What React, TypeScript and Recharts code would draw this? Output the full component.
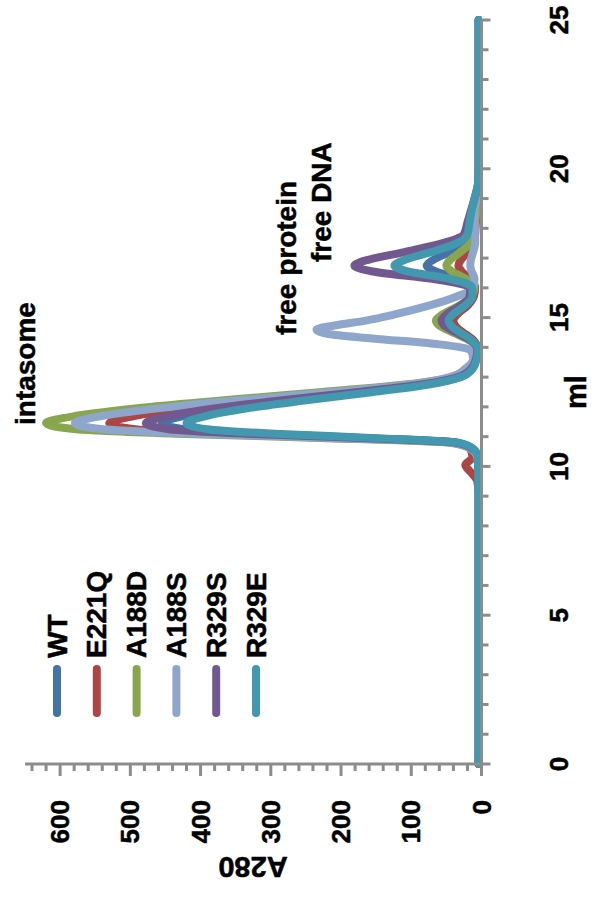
import React from 'react';
import { LineChart, Line, XAxis, YAxis, Legend, Customized } from 'recharts';

const ML = [0, 1, 2, 3, 4, 5, 6, 7, 8, 9, 9.5, 9.8, 10.05, 10.3, 10.6, 10.8, 10.95, 11.1, 11.25, 11.45, 11.7, 12.0, 12.25, 12.5, 12.75, 13.0, 13.3, 13.6, 13.9, 14.1, 14.3, 14.45, 14.6, 14.75, 14.9, 15.1, 15.4, 15.7, 16.0, 16.3, 16.55, 16.75, 16.95, 17.2, 17.5, 17.8, 18.2, 18.6, 19.0, 19.5, 20, 21, 22, 23, 24, 25];

const WT = [4, 4, 4, 4, 4, 4, 4, 4, 4, 4, 4, 4, 5, 5, 13, 36, 162, 320, 423, 455, 423, 347, 261, 166, 81, 31, 13, 8, 5, 8, 18, 28, 39, 47, 50, 44, 26, 13, 10, 30, 65, 78, 68, 45, 22, 13, 10, 7, 5, 4, 4, 4, 4, 4, 4, 4];
const E221Q = [4, 4, 4, 4, 4, 4, 4, 4, 4, 4, 6, 15, 23, 13, 16, 41, 188, 372, 493, 530, 493, 404, 304, 193, 93, 36, 15, 9, 5, 7, 14, 23, 32, 38, 40, 35, 20, 11, 9, 16, 28, 33, 29, 20, 12, 9, 8, 6, 5, 4, 4, 4, 4, 4, 4, 4];
const A188D = [4, 4, 4, 4, 4, 4, 4, 4, 4, 4, 4, 4, 5, 5, 16, 47, 220, 435, 577, 620, 577, 472, 355, 226, 109, 41, 16, 10, 6, 10, 22, 36, 50, 61, 65, 56, 32, 16, 10, 22, 42, 50, 44, 30, 16, 11, 9, 7, 5, 4, 4, 4, 4, 4, 4, 4];
const A188S = [4, 4, 4, 4, 4, 4, 4, 4, 4, 4, 4, 4, 5, 6, 16, 44, 205, 406, 539, 579, 539, 441, 332, 211, 102, 45, 22, 12, 15, 60, 155, 218, 235, 205, 165, 125, 75, 36, 12, 10, 14, 16, 15, 12, 9, 9, 10, 10, 7, 5, 4, 4, 4, 4, 4, 4];
const R329S = [4, 4, 4, 4, 4, 4, 4, 4, 4, 4, 4, 4, 5, 5, 13, 37, 170, 336, 445, 478, 445, 364, 274, 175, 85, 33, 14, 8, 6, 9, 20, 32, 44, 54, 57, 50, 30, 17, 16, 70, 155, 181, 160, 110, 55, 25, 20, 15, 10, 5, 4, 4, 4, 4, 4, 4];
const R329E = [4, 4, 4, 4, 4, 4, 4, 4, 4, 4, 4, 4, 5, 5, 12, 33, 150, 295, 391, 420, 391, 320, 241, 154, 75, 29, 12, 7, 5, 8, 17, 27, 37, 44, 47, 41, 24, 13, 13, 45, 105, 124, 108, 72, 35, 20, 17, 14, 10, 5, 4, 4, 4, 4, 4, 4];

const SERIES_NAMES = ['WT', 'E221Q', 'A188D', 'A188S', 'R329S', 'R329E'];
const SERIES_VALUES = [WT, E221Q, A188D, A188S, R329S, R329E];
const SERIES_COLORS = ['#4572A7', '#AA4643', '#89A54E', '#8EA6CB', '#71588F', '#4198AF'];

const ML_TICKS = [0, 1, 2, 3, 4, 5, 6, 7, 8, 9, 10, 11, 12, 13, 14, 15, 16, 17, 18, 19, 20, 21, 22, 23, 24, 25];
const A280_TICKS = [0, 20, 40, 60, 80, 100, 120, 140, 160, 180, 200, 220, 240, 260, 280, 300, 320, 340, 360, 380, 400, 420, 440, 460, 480, 500, 520, 540, 560, 580, 600, 620, 640];

const X_TITLE = 'ml';
const Y_TITLE = 'A280';
const ANNOTATION_TEXTS = ['intasome', 'free protein', 'free DNA'];

const FONT = "'Liberation Sans Narrow', 'Arial Narrow', 'Liberation Sans', sans-serif";
const AXIS = '#8C8C8C';
const W = 898;
const H = 597;
const TXT = { fontFamily: FONT, fontWeight: 700, fill: '#000', stroke: '#000', strokeWidth: 0.5 } as const;

const data = ML.map((ml, i) => {
  const row: Record<string, number> = { ml };
  SERIES_NAMES.forEach((n, k) => {
    row[n] = SERIES_VALUES[k][i];
  });
  return row;
});

const XTick = (props: any) => {
  const { x, y, payload } = props;
  const v = payload.value;
  const major = v % 5 === 0;
  return (
    <g>
      <line x1={x} x2={x} y1={y} y2={y + (major ? 9 : 7)} stroke={AXIS} strokeWidth={3} />
      {major && (
        <text x={x} y={y + 86} textAnchor="middle" fontSize={26} {...TXT}>
          {v}
        </text>
      )}
    </g>
  );
};

const YTick = (props: any) => {
  const { x, y, payload } = props;
  const v = payload.value;
  const major = v % 100 === 0;
  return (
    <g>
      <line x1={x} x2={x - (major ? 12 : 7)} y1={y} y2={y} stroke={AXIS} strokeWidth={3} />
      {major && (
        <text x={x - 36} y={y} textAnchor="end" dominantBaseline="central" fontSize={26} {...TXT}>
          {v}
        </text>
      )}
    </g>
  );
};

const renderLegend = () => (
  <svg width={220} height={250} style={{ overflow: 'visible' }}>
    {SERIES_NAMES.map((n, i) => (
      <g key={n}>
        <line x1={4} x2={48} y1={20 + i * 39.8} y2={20 + i * 39.8} stroke={SERIES_COLORS[i]} strokeWidth={8} strokeLinecap="round" />
        <text x={59} y={20 + i * 39.8} dominantBaseline="central" fontSize={28} {...TXT}>
          {n}
        </text>
      </g>
    ))}
  </svg>
);

const Annotations = () => (
  <g>
    <text x={473} y={35} fontSize={28} {...TXT}>{ANNOTATION_TEXTS[0]}</text>
    <text x={563} y={296} fontSize={28} {...TXT}>{ANNOTATION_TEXTS[1]}</text>
    <text x={636} y={331} fontSize={28} {...TXT}>{ANNOTATION_TEXTS[2]}</text>
    <text x={506} y={586} fontSize={29} textAnchor="middle" {...TXT}>{X_TITLE}</text>
    <text x={31} y={253} fontSize={29} textAnchor="middle" dominantBaseline="central" transform="rotate(-90 31 253)" {...TXT}>{Y_TITLE}</text>
  </g>
);

export default function App() {
  return (
    <div style={{ position: 'absolute', left: 0, top: 0, width: 597, height: 898, overflow: 'hidden', background: '#fff' }}>
      <div style={{ position: 'absolute', left: 0, top: 0, width: W, height: H, transformOrigin: '0 0', transform: `translateY(${W}px) rotate(-90deg)` }}>
        <LineChart width={W} height={H} data={data} margin={{ top: 25, right: 20, bottom: 55.5, left: 74 }}>
          <XAxis
            dataKey="ml"
            type="number"
            domain={[0, 25]}
            ticks={ML_TICKS}
            interval={0}
            height={60}
            tickSize={0}
            tickMargin={0}
            tickLine={false}
            axisLine={{ stroke: AXIS, strokeWidth: 3 }}
            tick={<XTick />}
          />
          <YAxis
            type="number"
            domain={[0, 650]}
            ticks={A280_TICKS}
            interval={0}
            width={60}
            tickSize={0}
            tickMargin={0}
            tickLine={false}
            allowDataOverflow
            axisLine={{ stroke: AXIS, strokeWidth: 3 }}
            tick={<YTick />}
          />
          {SERIES_NAMES.map((n, i) => (
            <Line
              key={n}
              type="monotone"
              dataKey={n}
              stroke={SERIES_COLORS[i]}
              strokeWidth={8}
              strokeLinejoin="round"
              strokeLinecap="round"
              dot={false}
              activeDot={false}
              isAnimationActive={false}
            />
          ))}
          <Legend
            layout="vertical"
            align="center"
            verticalAlign="middle"
            wrapperStyle={{ left: 181, top: 37, width: 220, height: 250 }}
            content={renderLegend}
          />
          <Customized component={Annotations} />
        </LineChart>
      </div>
    </div>
  );
}
